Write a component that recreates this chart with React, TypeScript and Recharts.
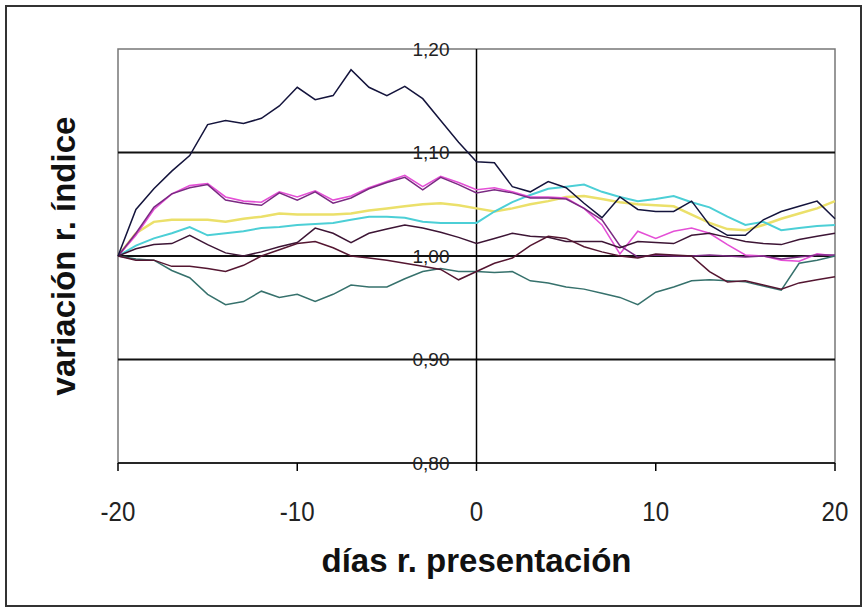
import React from 'react';
import {
  LineChart, Line, XAxis, YAxis, ReferenceLine, ReferenceArea, ReferenceDot,
} from 'recharts';

const FONT = '"Liberation Sans", Arial, sans-serif';

// días relativos a la presentación
const days = [
  -20, -19, -18, -17, -16, -15, -14, -13, -12, -11,
  -10, -9, -8, -7, -6, -5, -4, -3, -2, -1,
  0, 1, 2, 3, 4, 5, 6, 7, 8, 9,
  10, 11, 12, 13, 14, 15, 16, 17, 18, 19, 20,
];

const xTicks = [-20, -10, 0, 10, 20];
const yTicks = [0.8, 0.9, 1.0, 1.1, 1.2];
const yTickLabels = ['0,80', '0,90', '1,00', '1,10', '1,20'];
const gridLevels = [0.9, 1.0, 1.1];

// one array per empresa
const serieNegra = [
  1.000, 1.045, 1.065, 1.082, 1.097, 1.127, 1.131, 1.128, 1.133, 1.145,
  1.163, 1.151, 1.155, 1.180, 1.163, 1.155, 1.164, 1.152, 1.131, 1.110,
  1.091, 1.090, 1.067, 1.062, 1.072, 1.066, 1.051, 1.037, 1.057, 1.045,
  1.043, 1.043, 1.053, 1.030, 1.020, 1.020, 1.035, 1.043, 1.048, 1.053, 1.036,
];
const serieMorada = [
  1.000, 1.022, 1.047, 1.060, 1.066, 1.069, 1.054, 1.051, 1.049, 1.061,
  1.054, 1.062, 1.051, 1.056, 1.065, 1.071, 1.076, 1.064, 1.076, 1.069,
  1.061, 1.064, 1.061, 1.056, 1.056, 1.055, 1.046, 1.035, 1.010, 0.999,
  1.001, 1.000, 1.000, 1.001, 1.000, 0.999, 1.000, 0.997, 0.999, 1.001, 1.001,
];
const serieRosa = [
  1.000, 1.020, 1.045, 1.060, 1.068, 1.070, 1.057, 1.053, 1.052, 1.062,
  1.057, 1.063, 1.054, 1.058, 1.066, 1.072, 1.078, 1.067, 1.077, 1.071,
  1.064, 1.066, 1.062, 1.057, 1.057, 1.056, 1.046, 1.030, 1.002, 1.024,
  1.017, 1.024, 1.027, 1.022, 1.011, 1.001, 1.000, 0.996, 0.995, 1.002, 1.000,
];
const serieAmarilla = [
  1.000, 1.022, 1.033, 1.035, 1.035, 1.035, 1.033, 1.036, 1.038, 1.041,
  1.040, 1.040, 1.040, 1.041, 1.044, 1.046, 1.048, 1.050, 1.051, 1.049,
  1.046, 1.043, 1.046, 1.050, 1.053, 1.057, 1.058, 1.055, 1.052, 1.050,
  1.049, 1.048, 1.040, 1.032, 1.026, 1.025, 1.030, 1.036, 1.041, 1.046, 1.053,
];
const serieCian = [
  1.000, 1.010, 1.017, 1.022, 1.028, 1.020, 1.022, 1.024, 1.027, 1.028,
  1.030, 1.031, 1.032, 1.035, 1.038, 1.038, 1.037, 1.033, 1.032, 1.032,
  1.032, 1.043, 1.052, 1.059, 1.065, 1.067, 1.069, 1.062, 1.057, 1.053,
  1.055, 1.058, 1.052, 1.047, 1.038, 1.030, 1.033, 1.025, 1.027, 1.029, 1.030,
];
const serieOscura = [
  1.000, 1.007, 1.011, 1.012, 1.020, 1.011, 1.003, 1.000, 1.004, 1.009,
  1.013, 1.027, 1.022, 1.013, 1.022, 1.026, 1.030, 1.027, 1.023, 1.018,
  1.012, 1.017, 1.022, 1.019, 1.018, 1.014, 1.014, 1.014, 1.008, 1.014,
  1.013, 1.012, 1.020, 1.022, 1.018, 1.014, 1.012, 1.011, 1.016, 1.019, 1.022,
];
const serieGranate = [
  1.000, 0.996, 0.996, 0.990, 0.990, 0.988, 0.985, 0.991, 1.000, 1.006,
  1.012, 1.014, 1.008, 1.000, 0.998, 0.996, 0.993, 0.990, 0.987, 0.977,
  0.985, 0.993, 0.998, 1.010, 1.019, 1.017, 1.009, 1.004, 1.000, 0.998,
  1.002, 1.001, 1.000, 0.985, 0.975, 0.976, 0.972, 0.968, 0.974, 0.977, 0.980,
];
const serieVerde = [
  1.000, 0.997, 0.996, 0.986, 0.979, 0.963, 0.953, 0.956, 0.966, 0.960,
  0.963, 0.956, 0.963, 0.972, 0.970, 0.970, 0.978, 0.985, 0.988, 0.985,
  0.985, 0.984, 0.985, 0.976, 0.974, 0.970, 0.968, 0.964, 0.960, 0.953,
  0.965, 0.970, 0.976, 0.977, 0.976, 0.975, 0.971, 0.967, 0.993, 0.996, 1.000,
];

const data = days.map((d, i) => ({
  day: d,
  negra: serieNegra[i],
  morada: serieMorada[i],
  rosa: serieRosa[i],
  amarilla: serieAmarilla[i],
  cian: serieCian[i],
  oscura: serieOscura[i],
  granate: serieGranate[i],
  verde: serieVerde[i],
}));

// draw order: light colours first, dark ones on top
const series = [
  { key: 'amarilla', color: '#ebe06a', width: 2.5 },
  { key: 'cian', color: '#4ccfd6', width: 2 },
  { key: 'rosa', color: '#e44fd6', width: 1.6 },
  { key: 'morada', color: '#7a2a82', width: 1.5 },
  { key: 'verde', color: '#36716c', width: 1.5 },
  { key: 'oscura', color: '#3d1535', width: 1.5 },
  { key: 'granate', color: '#541631', width: 1.5 },
  { key: 'negra', color: '#14143c', width: 1.5 },
];

const YTickMark = (props: any) => {
  const { cx, cy, label } = props;
  return (
    <text x={cx - 27} y={cy} textAnchor="end" dominantBaseline="central"
      fontSize={19} fill="#222" fontFamily={FONT}>
      {label}
    </text>
  );
};

// narrow digits, like the original's axis font
const XTick = (props: any) => {
  const { x, y, payload } = props;
  return (
    <text transform={`translate(${x},${y}) scale(0.86,1)`} textAnchor="middle"
      dy="0.71em" fontSize={28} fill="#222" fontFamily={FONT}>
      {payload.value}
    </text>
  );
};

export default function App() {
  return (
    <div style={{ position: 'absolute', left: 0, top: 0, width: 868, height: 611, background: '#fff' }}>
      <div style={{
        position: 'absolute', left: 5, top: 5, width: 853, height: 598,
        border: '2px solid #333', pointerEvents: 'none',
      }} />
      <LineChart width={868} height={611} data={data}
        margin={{ top: 49, right: 33, left: 0, bottom: 0 }}>
        <XAxis dataKey="day" type="number" domain={[-20, 20]} ticks={xTicks}
          height={148} tickSize={8} tickMargin={30}
          axisLine={{ stroke: '#000', strokeWidth: 1.5 }}
          tickLine={{ stroke: '#000', strokeWidth: 1.5 }}
          tick={<XTick />}
          label={{
            content: ({ viewBox }: any) => (
              <text x={viewBox.x + viewBox.width / 2} y={viewBox.y + 109}
                textAnchor="middle" fontSize={33} fontWeight="bold"
                fontFamily={FONT} fill="#111">
                días r. presentación
              </text>
            ),
          }} />
        <YAxis type="number" domain={[0.8, 1.2]} ticks={yTicks} width={118}
          axisLine={false} tickLine={false} tick={false}
          label={{
            content: ({ viewBox }: any) => {
              const x = viewBox.x + 75;
              const y = viewBox.y + viewBox.height / 2;
              return (
                <text x={x} y={y} transform={`rotate(-90 ${x} ${y})`}
                  textAnchor="middle" fontSize={33} fontWeight="bold"
                  fontFamily={FONT} fill="#111">
                  variación r. índice
                </text>
              );
            },
          }} />
        <ReferenceArea x1={-20} x2={20} y1={0.8} y2={1.2}
          fill="none" stroke="#777" strokeWidth={1.5} />
        {gridLevels.map((v) => (
          <ReferenceLine key={v} y={v} stroke="#111" strokeWidth={2} />
        ))}
        <ReferenceLine x={0} stroke="#000" strokeWidth={1.5} />
        {series.map((s) => (
          <Line key={s.key} dataKey={s.key} type="linear" stroke={s.color}
            strokeWidth={s.width} dot={false} activeDot={false}
            isAnimationActive={false} />
        ))}
        {yTicks.map((v, i) => (
          <ReferenceDot key={v} x={0} y={v} r={0}
            shape={(p: any) => <YTickMark {...p} label={yTickLabels[i]} />} />
        ))}
      </LineChart>
    </div>
  );
}
